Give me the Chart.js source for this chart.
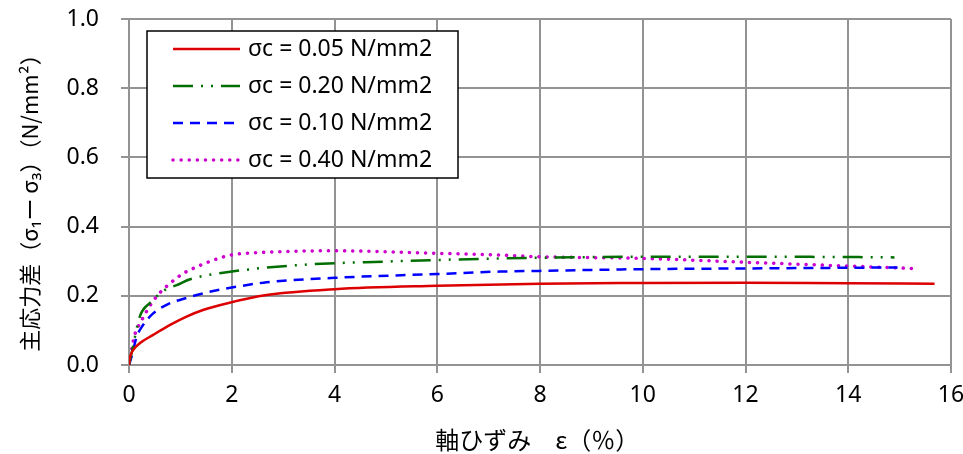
<!DOCTYPE html>
<html><head><meta charset="utf-8">
<script src="https://cdn.jsdelivr.net/npm/chart.js@4/dist/chart.umd.min.js"></script>
<style>html,body{margin:0;padding:0;background:#fff}canvas{display:block}</style>
</head><body><canvas id="c" width="963" height="454"></canvas>
<script>
// ---- data ----
const seriesLabels = ['σc = 0.05 N/mm2', 'σc = 0.20 N/mm2', 'σc = 0.10 N/mm2', 'σc = 0.40 N/mm2'];

const x005 = [0, 0.02, 0.08, 0.21, 0.47, 0.8, 1.12, 1.44, 1.9, 2.68, 4, 6, 8, 10, 12, 14, 15.68];
const y005 = [0, 0.022, 0.043, 0.063, 0.087, 0.116, 0.14, 0.159, 0.178, 0.202, 0.219, 0.229, 0.235, 0.237, 0.238, 0.236, 0.235];

const x020 = [0, 0.05, 0.21, 0.41, 0.7, 0.93, 1.19, 2, 3.33, 5, 7.22, 8, 10, 12, 14, 14.9];
const y020 = [0, 0.034, 0.14, 0.18, 0.217, 0.231, 0.248, 0.27, 0.289, 0.299, 0.308, 0.31, 0.313, 0.313, 0.312, 0.311];

const x010 = [0, 0.05, 0.15, 0.25, 0.47, 0.76, 1.12, 1.44, 1.77, 2, 2.68, 4, 6, 7.22, 8, 10, 12, 14, 14.96];
const y010 = [0, 0.024, 0.082, 0.11, 0.149, 0.176, 0.194, 0.207, 0.218, 0.224, 0.239, 0.252, 0.263, 0.27, 0.272, 0.277, 0.279, 0.281, 0.282];

const x040 = [0, 0.08, 0.12, 0.25, 0.41, 0.59, 0.8, 1.06, 1.19, 1.64, 2, 2.68, 4, 5.96, 7.16, 8, 10, 12, 14, 15.25];
const y040 = [0, 0.067, 0.091, 0.13, 0.172, 0.207, 0.236, 0.265, 0.275, 0.303, 0.318, 0.326, 0.330, 0.323, 0.318, 0.313, 0.308, 0.297, 0.286, 0.279];

const xTicks = [0, 2, 4, 6, 8, 10, 12, 14, 16];
const yTicks = [0, 0.2, 0.4, 0.6, 0.8, 1.0];
const xTitle = '軸ひずみ　ε（％） ';
const yTitle = '主応力差（σ₁ー σ₃）（N/mm²）　';

// ---- build ----
const pts = (xs, ys) => xs.map((x, i) => ({x: x, y: ys[i]}));
const FONT = '"Noto Sans", "Noto Sans CJK JP", sans-serif';
const TFONT = '"Noto Sans CJK JP", "Noto Sans", sans-serif';
const GRID = '#939393';

const styles = [
  {color: '#dd0000', dash: [], cap: 'butt', width: 2.5},
  {color: '#006e00', dash: [20, 8, 2, 8, 2, 8], cap: 'butt', width: 2.5},
  {color: '#0000ff', dash: [10, 7], cap: 'butt', width: 2.5},
  {color: '#cc00cc', dash: [0.1, 8], cap: 'round', width: 3.5}
];
const series = [pts(x005, y005), pts(x020, y020), pts(x010, y010), pts(x040, y040)];

const datasets = series.map((d, i) => ({
  label: seriesLabels[i],
  data: d,
  showLine: true,
  borderColor: styles[i].color,
  backgroundColor: styles[i].color,
  borderWidth: styles[i].width,
  borderDash: styles[i].dash,
  borderCapStyle: styles[i].cap,
  pointRadius: 0,
  cubicInterpolationMode: 'monotone',
  fill: false
}));

const boxLegend = {
  id: 'boxLegend',
  afterDraw(chart) {
    const ctx = chart.ctx, ca = chart.chartArea;
    const bx = ca.left + 18, by = ca.top + 12, bw = 311, bh = 147;
    ctx.save();
    ctx.fillStyle = '#fff';
    ctx.fillRect(bx, by, bw, bh);
    ctx.strokeStyle = '#000';
    ctx.lineWidth = 1.5;
    ctx.strokeRect(bx, by, bw, bh);
    chart.data.datasets.forEach((ds, i) => {
      const y = by + 18 + i * 37;
      ctx.beginPath();
      ctx.strokeStyle = ds.borderColor;
      ctx.lineWidth = ds.borderWidth;
      ctx.setLineDash(ds.borderDash);
      ctx.lineCap = ds.borderCapStyle;
      ctx.moveTo(bx + 26, y);
      ctx.lineTo(bx + 93, y);
      ctx.stroke();
      ctx.setLineDash([]);
      ctx.fillStyle = '#000';
      ctx.font = '23px ' + FONT;
      ctx.textBaseline = 'middle';
      ctx.textAlign = 'left';
      ctx.fillText(ds.label, bx + 101, y);
    });
    ctx.restore();
  }
};

new Chart(document.getElementById('c'), {
  type: 'scatter',
  data: {datasets: datasets},
  plugins: [boxLegend],
  options: {
    responsive: false,
    animation: false,
    layout: {padding: {left: 0, right: 12, top: 19, bottom: 0}},
    plugins: {legend: {display: false}, tooltip: {enabled: false}},
    scales: {
      x: {
        type: 'linear', min: 0, max: 16,
        afterBuildTicks: s => { s.ticks = xTicks.map(v => ({value: v})); },
        afterFit: s => { s.height = 89; s.paddingLeft = 0; s.paddingRight = 0; },
        grid: {color: GRID, lineWidth: 2, tickLength: 8},
        border: {color: GRID, width: 2},
        ticks: {color: '#000', font: {family: FONT, size: 23}, padding: 9, maxRotation: 0},
        title: {display: true, text: xTitle, color: '#000', font: {family: TFONT, size: 24}, padding: {top: 0, bottom: 0}}
      },
      y: {
        type: 'linear', min: 0, max: 1,
        afterBuildTicks: s => { s.ticks = yTicks.map(v => ({value: v})); },
        afterFit: s => { s.width = 129; s.paddingTop = 0; s.paddingBottom = 0; },
        grid: {color: GRID, lineWidth: 2, tickLength: 8},
        border: {color: GRID, width: 2},
        ticks: {color: '#000', font: {family: FONT, size: 23}, padding: 22, callback: v => Number(v).toFixed(1)},
        title: {display: true, text: yTitle, color: '#000', font: {family: TFONT, size: 22}, padding: {top: 16, bottom: 0}}
      }
    }
  }
});
</script></body></html>
